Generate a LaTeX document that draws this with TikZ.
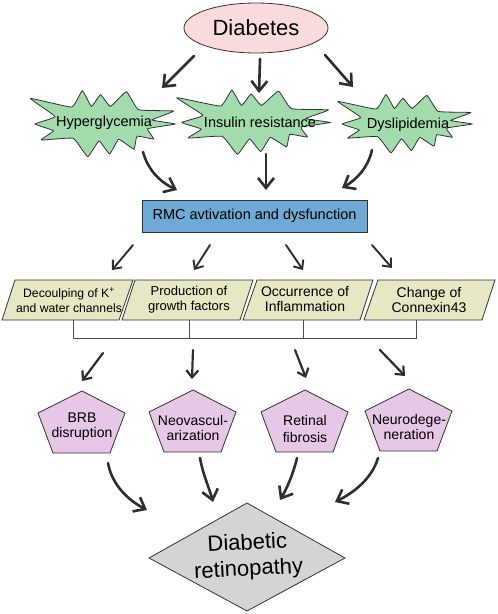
\documentclass[tikz,border=0pt]{standalone}
\usepackage{fontspec}
\setmainfont{Liberation Sans}
\usetikzlibrary{arrows.meta,shapes.geometric}
\definecolor{cpink}{HTML}{F9DADD}
\definecolor{cgreen}{HTML}{A2DBAC}
\definecolor{cblue}{HTML}{6FA9D5}
\definecolor{cbeige}{HTML}{E7E7C4}
\definecolor{clav}{HTML}{E6C8E6}
\definecolor{cgray}{HTML}{D4D4D4}
\definecolor{cline}{HTML}{333333}
\definecolor{carrow}{HTML}{2E2E2E}
\begin{document}
\begin{tikzpicture}[x=1pt,y=-1pt,
  outl/.style={draw=cline, line width=0.8pt},
  blob/.style={outl, fill=cgreen},
  parast/.style={outl, fill=cbeige},
  pentst/.style={outl, fill=clav},
  bigarr/.style={draw=carrow, line width=2.6pt, line cap=round, -{Straight Barb[length=10pt,width=16pt]}},
  midarr/.style={draw=carrow, line width=1.9pt, line cap=round, -{Straight Barb[length=7pt,width=12pt]}},
  brk/.style={draw=black!70, line width=0.8pt},
  splat/.pic={\path[blob] plot[smooth cycle, tension=0.22] coordinates {(1.0,0.0) (0.7,0.12) (0.98,0.38) (0.52,0.42) (0.36,0.95) (0.15,0.52) (0.02,0.86) (-0.1,0.52) (-0.22,0.98) (-0.36,0.5) (-0.9,0.75) (-0.58,0.22) (-0.84,0.0) (-0.6,-0.2) (-0.76,-0.47) (-0.34,-0.42) (-0.15,-0.96) (0.0,-0.5) (0.14,-0.88) (0.26,-0.45) (0.46,-0.74) (0.5,-0.36) (0.72,-0.44) (0.64,-0.14)};},
  pent/.pic={\path[pentst] (0,0) -- (-44,22) -- (-29,62) -- (28,62) -- (43,22) -- cycle;},
  t14/.style={font=\fontsize{14.5}{16}\selectfont},
  ptxt/.style={align=center, inner sep=0pt}
]
\useasboundingbox (0,0) rectangle (498,614);

% Diabetes
\node[ellipse, outl, fill=cpink, minimum width=144pt, minimum height=50pt, inner sep=0pt,
      font=\fontsize{22}{26}\selectfont] (diab) at (256,28) {Diabetes};

% splats
\pic[xscale=76, yscale=-34] at (99,124) {splat};
\pic[xscale=80.5, yscale=-33] at (249.5,122.5) {splat};
\pic[xscale=70.5, yscale=-30] at (401.5,124) {splat};
\node[t14] (hyp) at (104,123) {Hyperglycemia};
\node[t14] (ins) at (260,122) {Insulin resistance};
\node[t14] (dys) at (408,125) {Dyslipidemia};

% RMC
\node[draw=cline, line width=0.8pt, fill=cblue, minimum width=225pt, minimum height=32pt, inner sep=0pt, t14]
  (rmc) at (254.5,216) {RMC avtivation and dysfunction};

% parallelograms
\path[parast] (15,280) -- (133,280) -- (119,320) -- (2,320) -- cycle;
\path[parast] (135,280) -- (253,280) -- (240,320) -- (122,320) -- cycle;
\path[parast] (257,280) -- (373,280) -- (360,320) -- (243,320) -- cycle;
\path[parast] (378,280) -- (495,280) -- (482,320) -- (364,320) -- cycle;
\node[ptxt, font=\fontsize{12.2}{15}\selectfont] (p1) at (69,300) {Decoulping of K\textsuperscript{+}\\and water channels};
\node[ptxt, font=\fontsize{13}{15}\selectfont] (p2) at (189,300) {Production of\\growth factors};
\node[ptxt, font=\fontsize{14}{15.5}\selectfont] (p3) at (305,299) {Occurrence of\\Inflammation};
\node[ptxt, font=\fontsize{14}{15.5}\selectfont] (p4) at (429,300) {Change of\\Connexin43};

% bracket
\coordinate (b1) at (73,320); \coordinate (b2) at (189,320);
\coordinate (b3) at (303,320); \coordinate (b4) at (416,320);
\draw[brk] (b1) -- (73,338) -- (416,338) -- (b4);
\draw[brk] (b2) -- (189,338);
\draw[brk] (b3) -- (303,338);

% pentagons
\pic at (82,391) {pent};
\pic at (193,390) {pent};
\pic at (305,390) {pent};
\pic at (409,389) {pent};
\node[ptxt, font=\fontsize{14}{15}\selectfont] (q1) at (82,427) {BRB\\disruption};
\node[ptxt, font=\fontsize{14}{15}\selectfont] (q2) at (193,428) {Neovascul-\\arization};
\node[ptxt, font=\fontsize{14}{16.5}\selectfont] (q3) at (305,429) {Retinal\\fibrosis};
\node[ptxt, font=\fontsize{14}{15}\selectfont] (q4) at (409,427) {Neurodege-\\neration};

% diamond
\path[outl, fill=cgray] (247,503) -- (345,558) -- (247,611) -- (149,558) -- cycle;
\node[ptxt, rotate=3, font=\fontsize{22}{26}\selectfont] (dr) at (248,557) {Diabetic\\retinopathy};

% arrows Diabetes -> splats
\coordinate (a1s) at (194,56); \coordinate (a1e) at (162,88);
\coordinate (a2s) at (260,59); \coordinate (a2e) at (259,93);
\coordinate (a3s) at (325,55); \coordinate (a3e) at (353,87);
\draw[bigarr] (a1s) -- (a1e);
\draw[bigarr] (a2s) -- (a2e);
\draw[bigarr] (a3s) -- (a3e);

% splats -> RMC
\coordinate (c1s) at (143,152); \coordinate (c1e) at (177,190);
\coordinate (c2s) at (266,154); \coordinate (c2e) at (266,190);
\coordinate (c3s) at (372,150); \coordinate (c3e) at (342,188);
\draw[bigarr] (c1s) .. controls (148,170) and (160,182) .. (c1e);
\draw[bigarr] (c2s) -- (c2e);
\draw[bigarr] (c3s) .. controls (368,168) and (356,180) .. (c3e);

% RMC -> parallelograms
\coordinate (d1s) at (133,245); \coordinate (d1e) at (112,270);
\coordinate (d2s) at (210,245); \coordinate (d2e) at (194,270);
\coordinate (d3s) at (286,245); \coordinate (d3e) at (303,270);
\coordinate (d4s) at (372,245); \coordinate (d4e) at (392,268);
\draw[midarr] (d1s) -- (d1e);
\draw[midarr] (d2s) -- (d2e);
\draw[midarr] (d3s) -- (d3e);
\draw[midarr] (d4s) -- (d4e);

% bracket -> pentagons
\coordinate (e1s) at (103,353); \coordinate (e1e) at (82,381);
\coordinate (e2s) at (193,350); \coordinate (e2e) at (192,379);
\coordinate (e3s) at (295,350); \coordinate (e3e) at (306,378);
\coordinate (e4s) at (380,350); \coordinate (e4e) at (405,376);
\draw[midarr, line width=2.2pt] (e1s) -- (e1e);
\draw[midarr, line width=2.2pt] (e2s) -- (e2e);
\draw[midarr, line width=2.2pt] (e3s) -- (e3e);
\draw[midarr, line width=2.2pt] (e4s) -- (e4e);

% pentagons -> diamond
\coordinate (f1s) at (108,463); \coordinate (f1e) at (147,510);
\coordinate (f2s) at (200,458); \coordinate (f2e) at (213,502);
\coordinate (f3s) at (297,458); \coordinate (f3e) at (280,500);
\coordinate (f4s) at (378,458); \coordinate (f4e) at (335,502);
\draw[bigarr] (f1s) .. controls (112,485) and (128,500) .. (f1e);
\draw[bigarr] (f2s) .. controls (203,475) and (210,490) .. (f2e);
\draw[bigarr] (f3s) .. controls (293,475) and (286,490) .. (f3e);
\draw[bigarr] (f4s) .. controls (372,478) and (355,492) .. (f4e);
\end{tikzpicture}
\end{document}
